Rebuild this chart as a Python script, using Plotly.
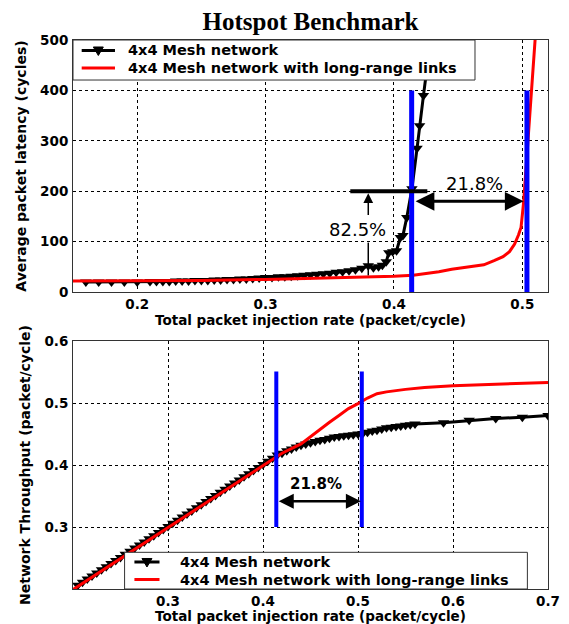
import plotly.graph_objects as go

# ---------------- data: top panel (latency) ----------------
lat_mesh_x = [0.160, 0.170, 0.180, 0.190, 0.200, 0.210, 0.215, 0.220, 0.225, 0.230,
              0.235, 0.240, 0.245, 0.250, 0.255, 0.260, 0.265, 0.270, 0.275, 0.280,
              0.285, 0.290, 0.295, 0.300, 0.305, 0.310, 0.315, 0.320, 0.325, 0.330,
              0.335, 0.340, 0.345, 0.350, 0.355, 0.360, 0.365, 0.370, 0.375, 0.380,
              0.384, 0.388, 0.391, 0.394, 0.396, 0.399, 0.402, 0.405, 0.407, 0.410,
              0.414, 0.418, 0.420, 0.423, 0.426, 0.429]
lat_mesh_y = [20, 20, 20, 20, 20, 21, 21, 21, 21, 22,
              22, 22, 23, 23, 23, 24, 24, 25, 25, 26,
              26, 27, 28, 29, 29, 30, 30, 31, 32, 33,
              34, 35, 36, 37, 39, 40, 42, 44, 47, 52,
              48, 50, 53, 60, 78, 80, 82, 108, 112, 148,
              205, 285, 330, 390, 450, 510]

lat_lr_x = [0.150, 0.200, 0.250, 0.300, 0.330, 0.370, 0.400, 0.415, 0.425, 0.435,
            0.445, 0.455, 0.465, 0.470, 0.478, 0.485, 0.490, 0.494, 0.497, 0.499,
            0.501, 0.5025, 0.504, 0.5055, 0.507, 0.5085, 0.510, 0.5105]
lat_lr_y = [22, 22, 23, 25, 26.5, 28.5, 31, 33, 36, 40,
            45, 48, 51, 54, 62, 70, 80, 95, 113, 128,
            178, 230, 290, 345, 400, 455, 500, 520]

# ---------------- data: bottom panel (throughput) ----------------
thr_mesh_x = [0.205, 0.210, 0.215, 0.220, 0.225, 0.230, 0.235, 0.240, 0.245, 0.250,
              0.255, 0.260, 0.265, 0.270, 0.275, 0.280, 0.285, 0.290, 0.295, 0.300,
              0.305, 0.310, 0.315, 0.320, 0.325, 0.330, 0.335, 0.340, 0.345, 0.350,
              0.355, 0.360, 0.365, 0.370, 0.375, 0.380, 0.385, 0.390, 0.395, 0.400,
              0.405, 0.410, 0.415, 0.420, 0.425, 0.430, 0.435, 0.440, 0.445, 0.450,
              0.455, 0.460, 0.465, 0.470, 0.475, 0.480, 0.485, 0.490, 0.495, 0.500,
              0.505, 0.510, 0.515, 0.520, 0.525, 0.530, 0.535, 0.540, 0.545, 0.550,
              0.555, 0.560, 0.590, 0.617, 0.645, 0.673, 0.700]
thr_mesh_y = [0.206, 0.211, 0.216, 0.221, 0.226, 0.231, 0.236, 0.241, 0.246, 0.251,
              0.256, 0.261, 0.266, 0.271, 0.276, 0.281, 0.286, 0.291, 0.296, 0.301,
              0.306, 0.311, 0.316, 0.321, 0.326, 0.331, 0.336, 0.341, 0.346, 0.351,
              0.356, 0.361, 0.366, 0.371, 0.376, 0.381, 0.386, 0.391, 0.396, 0.401,
              0.406, 0.411, 0.416, 0.419, 0.423, 0.426, 0.429, 0.432, 0.434, 0.436,
              0.438, 0.440, 0.441, 0.443, 0.445, 0.446, 0.447, 0.448, 0.449, 0.450,
              0.451, 0.453, 0.455, 0.456, 0.458, 0.460, 0.461, 0.462, 0.463, 0.464,
              0.465, 0.466, 0.468, 0.472, 0.475, 0.477, 0.480]

thr_lr_x = [0.200, 0.250, 0.300, 0.350, 0.400, 0.420, 0.440, 0.450, 0.460, 0.470,
            0.480, 0.490, 0.500, 0.510, 0.520, 0.530, 0.550, 0.570, 0.600, 0.650, 0.700]
thr_lr_y = [0.199, 0.249, 0.298, 0.348, 0.398, 0.419, 0.434, 0.446, 0.458, 0.469,
            0.480, 0.491, 0.499, 0.508, 0.515, 0.518, 0.522, 0.525, 0.528, 0.531, 0.533]

# saturation markers (blue bars) and annotation guides
sat_top_x = [0.4138, 0.5036]
sat_top_y = [0, 400]
sat_bot_x = [0.414, 0.504]
sat_bot_y = [0.300, 0.551]

bar_x = [0.366, 0.426]
bar_y = [200, 200]
lead_x = [0.380, 0.380]
lead_y = [33, 98]

# ticks
x_top_ticks = [0.2, 0.3, 0.4, 0.5]
y_top_ticks = [0, 100, 200, 300, 400, 500]
x_bot_ticks = [0.3, 0.4, 0.5, 0.6, 0.7]
y_bot_ticks = [0.3, 0.4, 0.5, 0.6]

names = ["4x4 Mesh network", "4x4 Mesh network with long-range links"]
series_colors = ["black", "#ff0000"]
x_title = "Total packet injection rate (packet/cycle)"

BOLD = dict(family="DejaVu Sans", size=14, color="black", weight="bold")
XT = dict(family="DejaVu Sans", size=13.5, color="black", weight="bold")
TICKF = dict(family="DejaVu Sans", size=13.5, color="black", weight="bold")
LEGFONT = dict(family="DejaVu Sans", size=14.5, color="black", weight="bold")
BLUE = "#0000ff"
MSIZE = 10

fig = go.Figure()

# ---- top ----
fig.add_trace(go.Scatter(x=lat_mesh_x, y=lat_mesh_y, mode="lines+markers", name=names[0],
                         line=dict(color=series_colors[0], width=3),
                         marker=dict(symbol="triangle-down", size=MSIZE, color="black"),
                         xaxis="x", yaxis="y", showlegend=False))
fig.add_trace(go.Scatter(x=lat_lr_x, y=lat_lr_y, mode="lines", name=names[1],
                         line=dict(color=series_colors[1], width=3), xaxis="x", yaxis="y",
                         showlegend=False))
for sx in sat_top_x:
    fig.add_trace(go.Scatter(x=[sx, sx], y=sat_top_y, mode="lines", showlegend=False,
                             line=dict(color=BLUE, width=5), xaxis="x", yaxis="y", hoverinfo="skip"))
fig.add_trace(go.Scatter(x=bar_x, y=bar_y, mode="lines", showlegend=False,
                         line=dict(color="black", width=4), xaxis="x", yaxis="y", hoverinfo="skip"))
fig.add_trace(go.Scatter(x=lead_x, y=lead_y, mode="lines", showlegend=False,
                         line=dict(color="black", width=1.5), xaxis="x", yaxis="y", hoverinfo="skip"))

# ---- bottom ----
fig.add_trace(go.Scatter(x=thr_mesh_x, y=thr_mesh_y, mode="lines+markers", name=names[0],
                         line=dict(color=series_colors[0], width=3),
                         marker=dict(symbol="triangle-down", size=MSIZE, color="black"),
                         xaxis="x2", yaxis="y2", showlegend=False))
fig.add_trace(go.Scatter(x=thr_lr_x, y=thr_lr_y, mode="lines", name=names[1],
                         line=dict(color=series_colors[1], width=3), xaxis="x2", yaxis="y2",
                         showlegend=False))
for sx in sat_bot_x:
    fig.add_trace(go.Scatter(x=[sx, sx], y=sat_bot_y, mode="lines", showlegend=False,
                             line=dict(color=BLUE, width=4), xaxis="x2", yaxis="y2", hoverinfo="skip"))

ann = []
# 82.5% arrow (pointing up to the bar)
ann.append(dict(x=0.380, y=196, ax=0.380, ay=150, xref="x", yref="y", axref="x", ayref="y",
                text="", showarrow=True, arrowhead=2, arrowsize=1.3, arrowwidth=1.5, arrowcolor="black"))
ann.append(dict(x=0.3715, y=124, xref="x", yref="y", text="82.5%", showarrow=False,
                font=dict(family="DejaVu Sans", size=18, color="black")))
# 21.8% top double arrow
ann.append(dict(x=0.501, y=180, ax=0.4157, ay=180, xref="x", yref="y", axref="x", ayref="y",
                text="", showarrow=True, arrowhead=2, startarrowhead=2, arrowside="end+start",
                arrowsize=1.25, startarrowsize=1.25, arrowwidth=3, arrowcolor="black"))
ann.append(dict(x=0.4625, y=215, xref="x", yref="y", text="21.8%", showarrow=False,
                font=dict(family="DejaVu Sans", size=18, color="black")))
# 21.8% bottom double arrow
ann.append(dict(x=0.503, y=0.3414, ax=0.415, ay=0.3414, xref="x2", yref="y2", axref="x2", ayref="y2",
                text="", showarrow=True, arrowhead=2, startarrowhead=2, arrowside="end+start",
                arrowsize=1.2, startarrowsize=1.2, arrowwidth=2.5, arrowcolor="black"))
ann.append(dict(x=0.456, y=0.3686, xref="x2", yref="y2", text="21.8%", showarrow=False,
                font=dict(family="DejaVu Sans", size=15, color="black", weight="bold")))

# x-axis titles
ann.append(dict(x=0.5, y=0.490, xref="paper", yref="paper", xanchor="center", yanchor="middle",
                text=x_title, showarrow=False, font=XT))
ann.append(dict(x=0.5, y=-0.0483, xref="paper", yref="paper", xanchor="center", yanchor="middle",
                text=x_title, showarrow=False, font=XT))

# ---- legends (drawn as boxes with line samples and text) ----
shapes = []
def add_legend(box, rows, line_x, text_x):
    x0, x1, y0, y1 = box
    shapes.append(dict(type="rect", xref="paper", yref="paper", x0=x0, x1=x1, y0=y0, y1=y1,
                       fillcolor="white", line=dict(color="#333333", width=1), layer="above"))
    for i, ry in enumerate(rows):
        shapes.append(dict(type="line", xref="paper", yref="paper", x0=line_x[0], x1=line_x[1],
                           y0=ry, y1=ry, line=dict(color=series_colors[i], width=3), layer="above"))
        if i == 0:
            xm = (line_x[0] + line_x[1]) / 2
            shapes.append(dict(type="path", xref="paper", yref="paper", xsizemode="pixel",
                               ysizemode="pixel", xanchor=xm, yanchor=ry,
                               path="M-5,3.5 L5,3.5 L0,-5 Z", fillcolor="black",
                               line=dict(color="black", width=1), layer="above"))
        ann.append(dict(x=text_x, y=ry, xref="paper", yref="paper", xanchor="left", yanchor="middle",
                        text=names[i], showarrow=False, font=LEGFONT))

add_legend((0.0, 0.8463, 0.9271, 1.0), [0.9809, 0.9490], (0.0183, 0.0884), 0.111)
add_legend((0.1086, 0.9566, 0.0, 0.0668), [0.0492, 0.0173], (0.1293, 0.1821), 0.2212)

axis_common = dict(showgrid=True, gridcolor="black", gridwidth=1, griddash="dot",
                   showline=True, mirror=True, linecolor="#333333", linewidth=1,
                   zeroline=False, ticks="", tickfont=TICKF, automargin=False)

fig.update_layout(
    width=569, height=624,
    margin=dict(l=73, r=21, t=40, b=35),
    paper_bgcolor="white", plot_bgcolor="white",
    title=dict(text="Hotspot Benchmark", x=0.5, xref="paper", xanchor="center",
               y=1 - 21 / 624, yref="container", yanchor="middle",
               font=dict(family="Liberation Serif", size=25, color="black", weight="bold")),
    xaxis=dict(domain=[0, 1], anchor="y", range=[0.15, 0.52], tickvals=x_top_ticks,
               ticktext=[f"{v:.1f}" for v in x_top_ticks], ticklabelstandoff=0,
               **axis_common),
    yaxis=dict(domain=[0.541, 1], anchor="x", range=[0, 500], tickvals=y_top_ticks,
               ticktext=[str(v) for v in y_top_ticks], ticklabelstandoff=1,
               title=dict(text="Average packet latency (cycles)", font=BOLD, standoff=10),
               **axis_common),
    xaxis2=dict(domain=[0, 1], anchor="y2", range=[0.2, 0.7], tickvals=x_bot_ticks,
                ticktext=[f"{v:.1f}" for v in x_bot_ticks], ticklabelstandoff=0,
                **axis_common),
    yaxis2=dict(domain=[0, 0.4517], anchor="x2", range=[0.2, 0.6], tickvals=y_bot_ticks,
                ticktext=[f"{v:.1f}" for v in y_bot_ticks], ticklabelstandoff=1,
                title=dict(text="Network Throughput (packet/cycle)", font=BOLD, standoff=10),
                **axis_common),
    shapes=shapes,
    annotations=ann,
    showlegend=False,
)

fig.write_html("out.html")
